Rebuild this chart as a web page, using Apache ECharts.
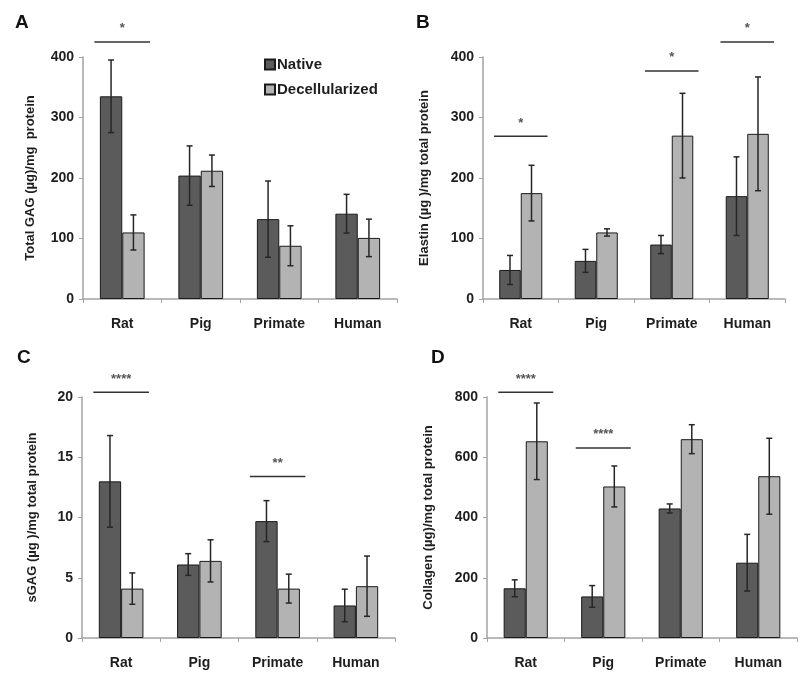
<!DOCTYPE html>
<html>
<head>
<meta charset="utf-8">
<script src="https://cdn.jsdelivr.net/npm/echarts@6/dist/echarts.min.js"></script>
<style>
  html, body { margin: 0; padding: 0; background: #fff; }
  #chart { width: 800px; height: 675px; }
</style>
</head>
<body>
<div id="chart"></div>
<script>
// categories
const cats = ['Rat', 'Pig', 'Primate', 'Human'];

// A - Total GAG
const gagNative = [335, 204, 132, 141];
const gagNativeSd = [60, 49, 63, 32];
const gagDecell = [110, 212, 88, 101];
const gagDecellSd = [29, 26, 33, 31];
const gagTicks = [0, 400, 100];
const gagSigCats = [0];
const gagSigLevels = [425];
const gagSigStars = ['*'];

// B - Elastin
const elaNative = [48, 63, 90, 170];
const elaNativeSd = [24, 19, 15, 65];
const elaDecell = [175, 110, 270, 273];
const elaDecellSd = [46, 6, 70, 94];
const elaTicks = [0, 400, 100];
const elaSigCats = [0, 2, 3];
const elaSigLevels = [269, 377, 425];
const elaSigStars = ['*', '*', '*'];

// C - sGAG
const sgagNative = [13, 6.1, 9.7, 2.7];
const sgagNativeSd = [3.8, 0.9, 1.7, 1.35];
const sgagDecell = [4.1, 6.4, 4.1, 4.3];
const sgagDecellSd = [1.3, 1.75, 1.2, 2.5];
const sgagTicks = [0, 20, 5];
const sgagSigCats = [0, 2];
const sgagSigLevels = [20.4, 13.4];
const sgagSigStars = ['****', '**'];

// D - Collagen
const colNative = [165, 138, 430, 250];
const colNativeSd = [28, 36, 15, 94];
const colDecell = [653, 503, 660, 537];
const colDecellSd = [127, 68, 48, 126];
const colTicks = [0, 800, 200];
const colSigCats = [0, 1];
const colSigLevels = [816, 631];
const colSigStars = ['****', '****'];

const GAP = 0.43;
const axisGray = '#a3a3a3';
const txt = '#1e1e1e';

let chart = echarts.init(document.getElementById('chart'));

function errData(mean, sd) {
    return mean.map(function (m, i) { return [i, m - sd[i], m + sd[i]]; });
}

// error bars drawn off the bar centre
function errRender(side) {
    return function (params, api) {
        let cat = api.value(0);
        let base = api.coord([cat, 0]);
        let catW = api.size([1, 0])[0];
        let barW = catW * (1 - GAP) / 2;
        let x = base[0] + side * barW / 2;
        let lo = api.coord([cat, api.value(1)])[1];
        let hi = api.coord([cat, api.value(2)])[1];
        let st = { stroke: '#262626', lineWidth: 1.5 };
        return {
            type: 'group',
            children: [
                { type: 'line', shape: { x1: x, y1: lo, x2: x, y2: hi }, style: st },
                { type: 'line', shape: { x1: x - 3, y1: hi, x2: x + 3, y2: hi }, style: st },
                { type: 'line', shape: { x1: x - 3, y1: lo, x2: x + 3, y2: lo }, style: st }
            ]
        };
    };
}

// significance bracket + stars
function sigRender(stars) {
    return function (params, api) {
        let cat = api.value(0);
        let p = api.coord([cat, api.value(1)]);
        let catW = api.size([1, 0])[0];
        let half = catW * 0.71 / 2;
        return {
            type: 'group',
            children: [
                { type: 'line', shape: { x1: p[0] - half, y1: p[1], x2: p[0] + half, y2: p[1] },
                  style: { stroke: '#333', lineWidth: 1.5 } },
                { type: 'text', x: p[0], y: p[1] - 13,
                  style: { text: stars[params.dataIndex], fill: '#555', font: 'bold 13px Arial',
                           align: 'center', verticalAlign: 'middle' } }
            ]
        };
    };
}

const panels = [
    { grid: { left: 83, top: 57, width: 314, height: 242 }, name: 'Total GAG (µg)/mg  protein', gap: 46,
      nat: gagNative, natSd: gagNativeSd, dec: gagDecell, decSd: gagDecellSd, ticks: gagTicks,
      sigCats: gagSigCats, sigLevels: gagSigLevels, sigStars: gagSigStars },
    { grid: { left: 483, top: 57, width: 302, height: 242 }, name: 'Elastin (µg )/mg total protein', gap: 52,
      nat: elaNative, natSd: elaNativeSd, dec: elaDecell, decSd: elaDecellSd, ticks: elaTicks,
      sigCats: elaSigCats, sigLevels: elaSigLevels, sigStars: elaSigStars },
    { grid: { left: 82, top: 397, width: 313, height: 241 }, name: 'sGAG (µg )/mg total protein', gap: 43,
      nat: sgagNative, natSd: sgagNativeSd, dec: sgagDecell, decSd: sgagDecellSd, ticks: sgagTicks,
      sigCats: sgagSigCats, sigLevels: sgagSigLevels, sigStars: sgagSigStars },
    { grid: { left: 487, top: 397, width: 310, height: 241 }, name: 'Collagen (µg)/mg total protein', gap: 52,
      nat: colNative, natSd: colNativeSd, dec: colDecell, decSd: colDecellSd, ticks: colTicks,
      sigCats: colSigCats, sigLevels: colSigLevels, sigStars: colSigStars }
];

let grids = [], xAxes = [], yAxes = [], series = [];

panels.forEach(function (p, i) {
    grids.push(p.grid);
    xAxes.push({
        type: 'category', gridIndex: i, data: cats,
        axisLine: { lineStyle: { color: axisGray, width: 1.5 } },
        axisTick: { show: true, length: 4, lineStyle: { color: axisGray } },
        axisLabel: { color: txt, fontWeight: 'bold', fontSize: 14, fontFamily: 'Arial', margin: 18 }
    });
    yAxes.push({
        type: 'value', gridIndex: i, min: p.ticks[0], max: p.ticks[1], interval: p.ticks[2],
        name: p.name, nameLocation: 'middle', nameGap: p.gap,
        nameTextStyle: { color: txt, fontWeight: 'bold', fontSize: 13, fontFamily: 'Arial' },
        splitLine: { show: false },
        axisLine: { show: true, lineStyle: { color: axisGray, width: 1.5 } },
        axisTick: { show: true, length: 4, lineStyle: { color: axisGray } },
        axisLabel: { color: txt, fontWeight: 'bold', fontSize: 14, fontFamily: 'Arial', margin: 9 }
    });
    series.push({
        name: 'Native', type: 'bar', xAxisIndex: i, yAxisIndex: i, data: p.nat,
        barGap: '0%', barCategoryGap: (GAP * 100) + '%',
        itemStyle: { color: '#5b5b5b', borderColor: '#1a1a1a', borderWidth: 1 }
    });
    series.push({
        name: 'Decellularized', type: 'bar', xAxisIndex: i, yAxisIndex: i, data: p.dec,
        barGap: '0%', barCategoryGap: (GAP * 100) + '%',
        itemStyle: { color: '#b3b3b3', borderColor: '#1a1a1a', borderWidth: 1 }
    });
    series.push({
        type: 'custom', xAxisIndex: i, yAxisIndex: i, z: 5, silent: true,
        renderItem: errRender(-1), encode: { x: 0, y: [1, 2] }, data: errData(p.nat, p.natSd)
    });
    series.push({
        type: 'custom', xAxisIndex: i, yAxisIndex: i, z: 5, silent: true,
        renderItem: errRender(1), encode: { x: 0, y: [1, 2] }, data: errData(p.dec, p.decSd)
    });
    series.push({
        type: 'custom', xAxisIndex: i, yAxisIndex: i, z: 6, silent: true, clip: false,
        renderItem: sigRender(p.sigStars), encode: { x: 0, y: 1 },
        data: p.sigCats.map(function (c, k) { return [c, p.sigLevels[k]]; })
    });
});

let option = {
    animation: false,
    backgroundColor: '#fff',
    title: [
        { text: 'A', left: 10, top: 8 },
        { text: 'B', left: 411, top: 8 },
        { text: 'C', left: 12, top: 343 },
        { text: 'D', left: 426, top: 343 }
    ].map(function (t) {
        t.textStyle = { fontSize: 19, fontWeight: 'bold', color: '#111', fontFamily: 'Arial' };
        return t;
    }),
    legend: {
        data: ['Native', 'Decellularized'],
        orient: 'vertical', left: 259, top: 52, itemGap: 10,
        icon: 'rect', itemWidth: 10, itemHeight: 10,
        textStyle: { color: txt, fontWeight: 'bold', fontSize: 15, fontFamily: 'Arial', padding: [0, 0, 0, -3] }
    },
    grid: grids,
    xAxis: xAxes,
    yAxis: yAxes,
    series: series
};

chart.setOption(option);
</script>
</body>
</html>
